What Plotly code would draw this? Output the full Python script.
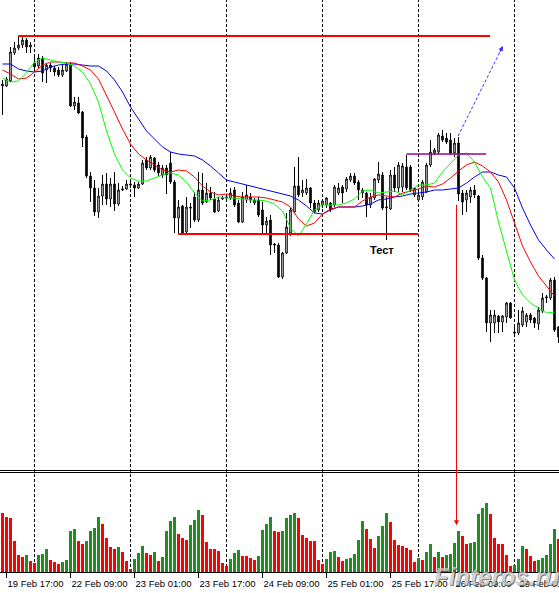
import plotly.graph_objects as go

# ---------------- data (EURUSD-like H1 bars) ----------------
open_ = [1.1114, 1.1114, 1.1119, 1.1147, 1.1152, 1.1155, 1.1160, 1.1153, 1.1137, 1.1134,
         1.1142, 1.1130, 1.1135, 1.1132, 1.1130, 1.1125, 1.1129, 1.1135, 1.1094, 1.1097,
         1.1088, 1.1063, 1.1024, 1.1012, 1.0988, 1.1004, 1.1016, 1.1001, 1.1016, 1.0996,
         1.1010, 1.1011, 1.1016, 1.1015, 1.1012, 1.1016, 1.1040, 1.1032, 1.1042, 1.1035,
         1.1025, 1.1032, 1.1037, 1.1018, 1.0982, 1.0994, 1.0968, 1.0993, 1.1003, 1.0980,
         1.1010, 1.0998, 1.1007, 1.1001, 1.0989, 1.1001, 1.1002, 1.1002, 1.1010, 1.0997,
         1.0978, 1.1000, 1.1003, 1.0997, 1.1000, 1.0990, 1.0975, 1.0980, 1.0956, 1.0955,
         1.0923, 1.0947, 1.0967, 1.0988, 1.1014, 1.1007, 1.1007, 1.1012, 1.0997, 1.0990,
         1.0995, 1.0995, 1.0997, 1.0995, 1.1007, 1.1013, 1.1011, 1.1020, 1.1024, 1.1018,
         1.1007, 1.1007, 1.0995, 1.1002, 1.1020, 1.1025, 1.0992, 1.0991, 1.1025, 1.1012,
         1.1013, 1.1033, 1.1033, 1.1005, 1.1000, 1.1003, 1.1008, 1.1035, 1.1047, 1.1048,
         1.1064, 1.1062, 1.1060, 1.1047, 1.1057, 1.1007, 1.1000, 1.1003, 1.1010, 1.1004,
         1.0942, 1.0922, 1.0877, 1.0877, 1.0884, 1.0878, 1.0883, 1.0897, 1.0868, 1.0867,
         1.0875, 1.0878, 1.0885, 1.0882, 1.0876, 1.0889, 1.0902, 1.0902, 1.0920, 1.0873]
high = [1.1120, 1.1123, 1.1153, 1.1158, 1.1164, 1.1163, 1.1162, 1.1158, 1.1143, 1.1146,
        1.1144, 1.1137, 1.1137, 1.1134, 1.1133, 1.1135, 1.1138, 1.1138, 1.1103, 1.1103,
        1.1089, 1.1065, 1.1028, 1.1020, 1.1012, 1.1025, 1.1027, 1.1022, 1.1028, 1.1017,
        1.1014, 1.1020, 1.1019, 1.1018, 1.1018, 1.1040, 1.1043, 1.1045, 1.1043, 1.1038,
        1.1035, 1.1035, 1.1048, 1.1020, 1.1000, 1.0995, 1.1003, 1.0997, 1.1008, 1.1028,
        1.1027, 1.1017, 1.1013, 1.1008, 1.1003, 1.1004, 1.1005, 1.1012, 1.1013, 1.1000,
        1.1008, 1.1015, 1.1007, 1.1002, 1.1003, 1.0998, 1.0983, 1.0985, 1.0957, 1.0957,
        1.0948, 1.0987, 1.0992, 1.1033, 1.1043, 1.1020, 1.1021, 1.1013, 1.1000, 1.1000,
        1.1000, 1.1003, 1.0998, 1.1015, 1.1017, 1.1015, 1.1023, 1.1027, 1.1027, 1.1020,
        1.1012, 1.1008, 1.1007, 1.1022, 1.1038, 1.1028, 1.1003, 1.1030, 1.1033, 1.1038,
        1.1037, 1.1045, 1.1035, 1.1013, 1.1008, 1.1020, 1.1037, 1.1060, 1.1052, 1.1067,
        1.1070, 1.1067, 1.1067, 1.1062, 1.1063, 1.1010, 1.1010, 1.1013, 1.1015, 1.1005,
        1.0945, 1.0923, 1.0890, 1.0890, 1.0885, 1.0885, 1.0898, 1.0898, 1.0875, 1.0890,
        1.0893, 1.0887, 1.0887, 1.0883, 1.0893, 1.0907, 1.0905, 1.0922, 1.0923, 1.0874]
low = [1.1085, 1.1113, 1.1118, 1.1145, 1.1150, 1.1152, 1.1147, 1.1147, 1.1128, 1.1132,
       1.1118, 1.1117, 1.1128, 1.1124, 1.1123, 1.1123, 1.1128, 1.1093, 1.1090, 1.1086,
       1.1053, 1.1022, 1.0998, 1.0984, 1.0982, 1.0995, 1.0995, 1.0993, 1.0989, 1.0994,
       1.1009, 1.1010, 1.1012, 1.1003, 1.1011, 1.1015, 1.1030, 1.1030, 1.1028, 1.1023,
       1.1022, 1.1006, 1.1016, 1.0967, 1.0967, 1.0966, 1.0966, 1.0972, 1.0978, 1.0978,
       1.0995, 1.0997, 1.1000, 1.0987, 1.0988, 1.1000, 1.1001, 1.1000, 1.0993, 1.0977,
       1.0977, 1.0997, 1.0997, 1.0995, 1.0983, 1.0967, 1.0967, 1.0945, 1.0947, 1.0922,
       1.0921, 1.0946, 1.0964, 1.0987, 1.1003, 1.1003, 1.1005, 1.0992, 1.0987, 1.0988,
       1.0992, 1.0992, 1.0988, 1.0993, 1.1005, 1.0997, 1.1008, 1.1018, 1.1015, 1.1000,
       1.1002, 1.0983, 1.0992, 1.1000, 1.1017, 1.0990, 1.0960, 1.0990, 1.1008, 1.1008,
       1.1008, 1.1010, 1.1008, 1.1003, 1.0998, 1.1000, 1.1007, 1.1033, 1.1045, 1.1046,
       1.1058, 1.1056, 1.1045, 1.1043, 1.0999, 1.0985, 1.0988, 1.0997, 1.1002, 1.0940,
       1.0920, 1.0868, 1.0858, 1.0867, 1.0867, 1.0868, 1.0877, 1.0881, 1.0864, 1.0865,
       1.0873, 1.0873, 1.0877, 1.0872, 1.0870, 1.0887, 1.0897, 1.0900, 1.0868, 1.0857]
close = [1.1116, 1.1121, 1.1148, 1.1152, 1.1155, 1.1160, 1.1153, 1.1155, 1.1133, 1.1142,
         1.1127, 1.1135, 1.1132, 1.1128, 1.1125, 1.1130, 1.1136, 1.1094, 1.1098, 1.1087,
         1.1062, 1.1024, 1.1012, 1.0988, 1.1004, 1.1016, 1.1001, 1.1016, 1.0996, 1.1010,
         1.1011, 1.1016, 1.1015, 1.1012, 1.1016, 1.1037, 1.1032, 1.1043, 1.1030, 1.1027,
         1.1032, 1.1025, 1.1018, 1.0982, 1.0993, 1.0967, 1.0993, 1.0992, 1.0980, 1.1010,
         1.0997, 1.1007, 1.1002, 1.0988, 1.1000, 1.1002, 1.1003, 1.1007, 1.0995, 1.0978,
         1.1003, 1.1005, 1.1000, 1.1000, 1.0985, 1.0975, 1.0979, 1.0955, 1.0955, 1.0923,
         1.0947, 1.0973, 1.0990, 1.1014, 1.1005, 1.1010, 1.1012, 1.0997, 1.0988, 1.0997,
         1.0999, 1.1002, 1.0991, 1.1013, 1.1012, 1.1007, 1.1021, 1.1024, 1.1017, 1.1010,
         1.1010, 1.0995, 1.1003, 1.1021, 1.1026, 1.0992, 1.0993, 1.1025, 1.1012, 1.1035,
         1.1034, 1.1012, 1.1010, 1.1012, 1.1005, 1.1018, 1.1035, 1.1048, 1.1050, 1.1065,
         1.1060, 1.1058, 1.1047, 1.1057, 1.1006, 1.0998, 1.1007, 1.1010, 1.1005, 1.0942,
         1.0922, 1.0877, 1.0885, 1.0885, 1.0878, 1.0884, 1.0897, 1.0882, 1.0867, 1.0877,
         1.0889, 1.0885, 1.0880, 1.0877, 1.0890, 1.0902, 1.0903, 1.0920, 1.0870, 1.0863]
volume = [1780, 1650, 1610, 920, 500, 440, 500, 320, 260, 500,
          530, 680, 350, 290, 230, 290, 350, 1220, 1280, 920,
          830, 920, 1220, 1310, 1640, 1440, 1010, 740, 680, 740,
          590, 320, 80, 380, 560, 770, 560, 500, 590, 320,
          440, 1220, 1520, 1640, 1130, 1010, 950, 1400, 1550, 1850,
          1700, 900, 700, 680, 620, 260, 170, 380, 560, 650,
          470, 470, 410, 350, 470, 1250, 1440, 1650, 1220, 1200,
          1220, 1610, 1700, 1760, 1610, 1100, 1020, 920, 920, 350,
          230, 380, 590, 620, 440, 320, 400, 420, 530, 950,
          1520, 1280, 980, 710, 1070, 1370, 1760, 1500, 950, 800,
          770, 710, 650, 290, 410, 350, 590, 830, 440, 590,
          450, 500, 530, 860, 1220, 1070, 830, 860, 890, 1730,
          1910, 2060, 1730, 1010, 830, 830, 500, 190, 210, 380,
          770, 680, 470, 320, 350, 410, 500, 830, 1280, 980]

# Alligator lines, read every second bar
ma_bars = list(range(0, 140, 2))
jaw_blue = [1.1136, 1.1136, 1.1131, 1.1129, 1.1128, 1.1129, 1.1133, 1.1135, 1.1136, 1.1136,
            1.1135, 1.1134, 1.1134, 1.1129, 1.1120, 1.1108, 1.1093, 1.1081, 1.1069, 1.1061,
            1.1053, 1.1048, 1.1046, 1.1045, 1.1044, 1.1040, 1.1034, 1.1027, 1.1020, 1.1018,
            1.1016, 1.1014, 1.1012, 1.1010, 1.1008, 1.1006, 1.1004, 1.1000, 1.0994, 1.0987,
            1.0986, 1.0990, 1.0993, 1.0993, 1.0993, 1.0994, 1.0996, 1.1000, 1.1001, 1.1003,
            1.1004, 1.1006, 1.1007, 1.1008, 1.1010, 1.1010, 1.1011, 1.1012, 1.1017, 1.1023,
            1.1028, 1.1028, 1.1025, 1.1023, 1.1012, 1.0992, 1.0975, 1.0960, 1.0950, 1.0941]
teeth_red = [1.1130, 1.1126, 1.1121, 1.1122, 1.1128, 1.1135, 1.1138, 1.1138, 1.1137, 1.1137,
             1.1134, 1.1130, 1.1121, 1.1105, 1.1088, 1.1071, 1.1056, 1.1046, 1.1040, 1.1035,
             1.1030, 1.1028, 1.1030, 1.1029, 1.1023, 1.1014, 1.1008, 1.1005, 1.1006, 1.1004,
             1.1003, 1.1003, 1.1003, 1.1002, 1.1000, 1.0998, 1.0993, 1.0981, 1.0974, 1.0977,
             1.0986, 1.0991, 1.0993, 1.0993, 1.0993, 1.0999, 1.1003, 1.1005, 1.1004, 1.1003,
             1.1007, 1.1009, 1.1011, 1.1014, 1.1013, 1.1016, 1.1022, 1.1029, 1.1035, 1.1038,
             1.1034, 1.1028, 1.1018, 1.1000, 1.0978, 1.0954, 1.0938, 1.0924, 1.0914, 1.0904]
lips_green = [1.1122, 1.1118, 1.1119, 1.1127, 1.1138, 1.1142, 1.1140, 1.1138, 1.1137, 1.1134,
              1.1128, 1.1116, 1.1098, 1.1069, 1.1046, 1.1030, 1.1022, 1.1019, 1.1019, 1.1022,
              1.1025, 1.1027, 1.1025, 1.1018, 1.1007, 1.0999, 1.1000, 1.1003, 1.1002, 1.1002,
              1.1001, 1.1000, 1.1000, 1.0999, 1.0996, 1.0989, 1.0972, 1.0964, 1.0976, 1.0990,
              1.0995, 1.0995, 1.0995, 1.0997, 1.1001, 1.1009, 1.1010, 1.1007, 1.1008, 1.1009,
              1.1005, 1.1010, 1.1015, 1.1015, 1.1017, 1.1028, 1.1037, 1.1045, 1.1047, 1.1038,
              1.1023, 1.1012, 1.0978, 1.0948, 1.0920, 1.0905, 1.0897, 1.0892, 1.0887, 1.0888]

tick_bars = [1, 17, 33, 49, 65, 81, 97, 113, 129]
tick_labels = ["19 Feb 17:00", "22 Feb 09:00", "23 Feb 01:00", "23 Feb 17:00",
               "24 Feb 09:00", "25 Feb 01:00", "25 Feb 17:00", "26 Feb 09:00",
               "29 Feb 01:00"]
day_start_bars = [8, 32, 56, 80, 104, 128]

resistance_level, resistance_from, resistance_to = 1.1164, 3.95, 121.9
support_level, support_from, support_to = 1.0966, 43.9, 103.9
range_level, range_from, range_to = 1.1046, 101.0, 120.9
test_bar = 96
signal_bar, signal_price, signal_volume = 113.5, 1.0997, 1400
forecast_from = (113.9, 1.1064)
forecast_to = (125.1, 1.1154)

# ---------------- figure ----------------
W, H = 559, 593
bars = list(range(len(close)))
vol_colors = ["#ff0000"] + ["#228b22" if volume[i] > volume[i - 1] else "#ff0000"
                            for i in range(1, len(volume))]

def py(px):  # pixel row -> paper y
    return (H - px) / H

fig = go.Figure()
fig.add_trace(go.Candlestick(
    x=bars, open=open_, high=high, low=low, close=close,
    increasing=dict(line=dict(color="black", width=1), fillcolor="white"),
    decreasing=dict(line=dict(color="black", width=1), fillcolor="black"),
    whiskerwidth=0, hoverinfo="skip", showlegend=False, xaxis="x", yaxis="y"))
for vals, col in ((jaw_blue, "#0000ff"), (teeth_red, "#ff0000"), (lips_green, "#00ff00")):
    fig.add_trace(go.Scatter(x=ma_bars, y=vals, mode="lines",
                             line=dict(color=col, width=1), hoverinfo="skip",
                             showlegend=False, xaxis="x", yaxis="y"))
fig.add_trace(go.Bar(x=bars, y=volume, width=0.75, marker=dict(color=vol_colors, line=dict(width=0)),
                     hoverinfo="skip", showlegend=False, xaxis="x2", yaxis="y2"))

xr = [-0.625, 139.125]
shapes = []
for b in day_start_bars:
    shapes.append(dict(type="line", xref="x", yref="paper", x0=b, x1=b,
                       y0=py(572), y1=1, line=dict(color="black", width=1, dash="3px,2px"),
                       layer="below"))
for yy in (470.5, 472.5):
    shapes.append(dict(type="line", xref="paper", yref="paper", x0=0, x1=1,
                       y0=py(yy), y1=py(yy), line=dict(color="black", width=1)))
shapes.append(dict(type="line", xref="x", yref="y", x0=resistance_from, x1=resistance_to,
                   y0=resistance_level, y1=resistance_level, line=dict(color="#ff0000", width=2)))
shapes.append(dict(type="line", xref="x", yref="y", x0=support_from, x1=support_to,
                   y0=support_level, y1=support_level, line=dict(color="#ff0000", width=2)))
shapes.append(dict(type="line", xref="x", yref="y", x0=range_from, x1=range_to,
                   y0=range_level, y1=range_level, line=dict(color="#990099", width=1.3)))
shapes.append(dict(type="line", xref="x", yref="y", x0=forecast_from[0], x1=forecast_to[0],
                   y0=forecast_from[1], y1=forecast_to[1],
                   line=dict(color="#3333ff", width=1, dash="3px,2px")))

annotations = [
    dict(x=forecast_to[0], y=forecast_to[1], xref="x", yref="y", ax=-4, ay=8,
         showarrow=True, arrowhead=2, arrowsize=1, arrowwidth=1, arrowcolor="#3333ff", text=""),
    dict(x=signal_bar, y=signal_volume, xref="x2", yref="y2", ax=0, ay=-322,
         showarrow=True, arrowhead=2, arrowsize=1, arrowwidth=1, arrowcolor="#ff0000", text=""),
    dict(x=test_bar, y=low[test_bar], xref="x", yref="y", showarrow=False, text="<b>Тест</b>",
         xanchor="center", yanchor="top", xshift=-5, yshift=-2,
         font=dict(family="Liberation Sans", size=11, color="black")),
    dict(x=497 / W, y=py(576), xref="paper", yref="paper", showarrow=False,
         xanchor="center", yanchor="middle",
         text="<b><i>Finteros.ru</i></b>", opacity=0.8,
         font=dict(family="Liberation Sans", size=24, color="#c8c8c8",
                   shadow="1px 1px 0px #555555")),
]

fig.update_layout(
    width=W, height=H, margin=dict(l=0, r=0, t=0, b=0, autoexpand=False),
    paper_bgcolor="white", plot_bgcolor="white", boxgap=0.45,
    font=dict(family="Liberation Sans", size=9, color="black"),
    xaxis=dict(domain=[0, 1], range=xr, autorange=False, anchor="y", showgrid=False,
               zeroline=False, showticklabels=False, ticks="",
               rangeslider=dict(visible=False)),
    yaxis=dict(domain=[py(468), 1], range=[1.0732, 1.1200], autorange=False, showgrid=False,
               zeroline=False, showticklabels=False, ticks=""),
    xaxis2=dict(domain=[0, 1], range=xr, autorange=False, anchor="y2", showgrid=False,
                zeroline=False, showline=True, linecolor="black", linewidth=1,
                ticks="outside", ticklen=5, tickcolor="black",
                tickvals=tick_bars, ticktext=tick_labels, tickangle=0, automargin=False,
                ticklabelposition="outside right", ticklabeloverflow="allow",
                ticklabelstandoff=3,
                tickfont=dict(family="Liberation Sans", size=9.5, color="black")),
    yaxis2=dict(domain=[py(572), py(474)], range=[0, 2940], autorange=False, showgrid=False,
                zeroline=False, showticklabels=False, ticks=""),
    shapes=shapes, annotations=annotations, bargap=0,
)
fig.write_html("out.html", config={"displayModeBar": False},
               post_script="document.body.style.margin='0px';document.body.style.overflow='hidden';")
